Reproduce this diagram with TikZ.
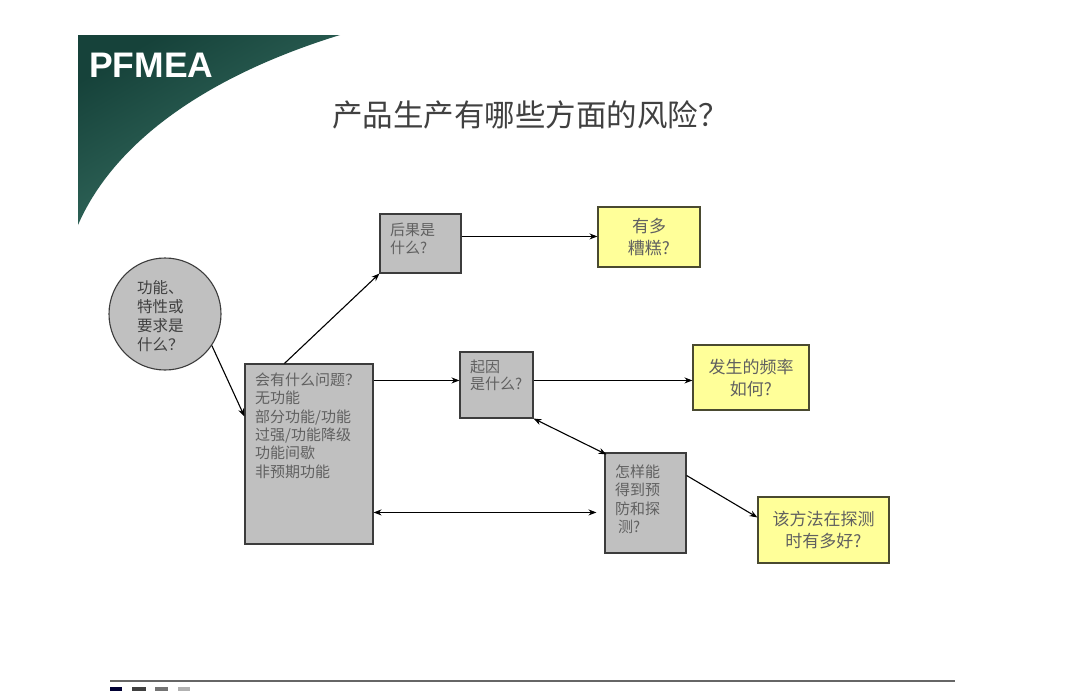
\documentclass[tikz,border=0pt]{standalone}
\usepackage{fontspec}
\setmainfont{Liberation Sans}
\newfontfamily\cjk{Noto Sans CJK SC}
\usetikzlibrary{arrows.meta,calc}
\definecolor{boxgray}{HTML}{C0C0C0}
\definecolor{boxline}{HTML}{3C3C3C}
\definecolor{yel}{HTML}{FFFF99}
\definecolor{yelline}{HTML}{4A4A30}
\definecolor{txtgray}{HTML}{606060}
\definecolor{bandark}{RGB}{22,66,58}
\definecolor{banlight}{RGB}{60,118,104}
\tikzset{
  graybox/.style={draw=boxline, fill=boxgray, line width=1.1pt, inner sep=0pt},
  yelbox/.style={draw=yelline, fill=yel, line width=1.1pt, inner sep=0pt, align=center,
    text=txtgray, font=\cjk\fontsize{17}{22}\selectfont},
  boxtext/.style={anchor=north west, inner sep=0pt, align=left, text=txtgray},
  arr/.style={-{Stealth[length=8pt,width=6pt]}, line width=1.1pt, black},
  darr/.style={{Stealth[length=8pt,width=6pt]}-{Stealth[length=8pt,width=6pt]}, line width=1.1pt, black}
}
\begin{document}
\begin{tikzpicture}[x=1pt,y=-1pt]
\useasboundingbox (0,0) rectangle (1080,691);
\fill[white] (0,0) rectangle (1080,691);
% banner
\shade[top color=bandark, bottom color=banlight, shading angle=30]
  (78,35) -- (340,35) .. controls (210,75) and (115,140) .. (78,225) -- cycle;
\node[anchor=base west, inner sep=0pt, text=white, font=\fontsize{35.5}{35.5}\selectfont\bfseries] (logo) at (89,77) {PFMEA};
% title
\node[text=black!75, font=\cjk\fontsize{30.5}{34}\selectfont, inner sep=0pt, anchor=west] (title) at (332,115) {产品生产有哪些方面的风险？};
% shapes
\node[circle, graybox, minimum size=112pt] (circ) at (165,314) {};
\node[boxtext, text=black!75, font=\cjk\fontsize{15.5}{19}\selectfont] (circt) at (137,280.5) {功能、\\特性或\\要求是\\什么？};
\node[graybox, minimum width=128pt, minimum height=180pt] (big) at (309,454) {};
\node[boxtext, font=\cjk\fontsize{15}{18.4}\selectfont] (bigt) at (255,372.5) {会有什么问题？\\无功能\\部分功能/功能\\过强/功能降级\\功能间歇\\非预期功能};
\node[graybox, minimum width=81pt, minimum height=59pt] (hg) at (420.5,243.5) {};
\node[boxtext, font=\cjk\fontsize{15}{18}\selectfont] (hgt) at (390,222.5) {后果是\\什么?};
\node[yelbox, minimum width=102pt, minimum height=60pt] (yd) at (649,237) {有多\\糟糕?};
\node[graybox, minimum width=73pt, minimum height=66pt] (qy) at (496.5,385) {};
\node[boxtext, font=\cjk\fontsize{15}{17}\selectfont] (qyt) at (470,359.5) {起因\\是什么?};
\node[yelbox, minimum width=116pt, minimum height=65pt] (fs) at (751,377.5) {发生的频率\\如何?};
\node[graybox, minimum width=81pt, minimum height=100pt] (zy) at (645.5,503) {};
\node[boxtext, font=\cjk\fontsize{15}{18.5}\selectfont] (zyt) at (615,464.5) {怎样能\\得到预\\防和探\\\hspace{3pt}测?};
\node[yelbox, minimum width=131pt, minimum height=66pt] (gf) at (823.5,530) {该方法在探测\\时有多好?};
% connectors
\draw[arr] (circ.-34) -- ($(big.north west)+(0,53)$);
\draw[arr] ($(big.north west)+(40,0)$) -- (hg.south west);
\draw[arr] ($(hg.north east)+(0,23)$) -- ($(yd.north west)+(0,30)$);
\draw[arr] ($(big.north east)+(0,17)$) -- ($(qy.north west)+(0,29)$);
\draw[arr] ($(qy.north east)+(0,29)$) -- ($(fs.north west)+(0,36)$);
\draw[darr] (qy.south east) -- ($(zy.north west)+(2,2)$);
\coordinate (bgap) at ($(zy.north west)+(-8,60)$);
\draw[darr] ($(big.north east)+(0,149)$) -- (bgap);
\draw[arr] ($(zy.north east)+(0,23)$) -- ($(gf.north west)+(0,21)$);
% footer
\draw[gray!80!black, line width=1.5pt] (110,681) -- (955,681);
\fill[black!80!blue] (110,687) rectangle (122,691);
\fill[black!75] (132,687) rectangle (146,691);
\fill[black!55] (155,687) rectangle (168,691);
\fill[black!30] (178,687) rectangle (190,691);
\end{tikzpicture}
\end{document}
